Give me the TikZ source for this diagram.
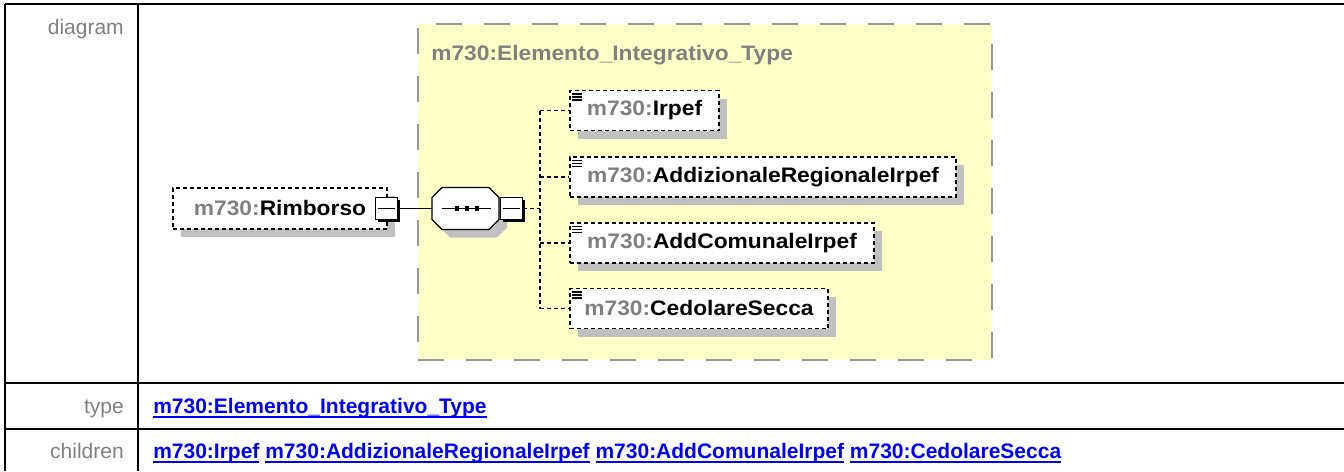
\documentclass[tikz,border=0pt]{standalone}
\usepackage{fontspec}
\setmainfont{Liberation Sans}
\newfontfamily\dfont[FakeStretch=1.085]{Liberation Sans}
\usetikzlibrary{shadows}
\definecolor{ygfill}{HTML}{FFFFC8}
\definecolor{ygborder}{HTML}{999999}
\definecolor{lblgray}{HTML}{808080}
\definecolor{shgray}{HTML}{C0C0C0}
\definecolor{linkblue}{HTML}{0000FF}
\newcommand{\dsize}{\fontsize{15.75}{18}\selectfont}
\newcommand{\pfx}[1]{\textcolor{lblgray}{#1}}
\newcommand{\lk}[1]{\setbox0\hbox{#1}\rlap{\rule[-3.8pt]{\wd0}{1.5pt}}\box0\relax}
\newcommand{\docicon}[1]{%
  \fill[white] ([xshift=1.5pt,yshift=-1.5pt]#1.north west) rectangle ([xshift=10.5pt,yshift=-8.5pt]#1.north west);
  \foreach \k in {0,1,2}{\draw[line width=1pt] ([xshift=2.25pt,yshift=-3pt-2.25pt*\k]#1.north west) -- ([xshift=9.75pt,yshift=-3pt-2.25pt*\k]#1.north west);}}
\tikzset{
  tline/.style={draw=black, line width=1.5pt},
  lbl/.style={inner sep=0pt, text=lblgray, font=\dsize},
  lnk/.style={inner sep=0pt, text=linkblue, font=\bfseries\dsize},
  typebox/.style={draw=ygborder, fill=ygfill, line width=1.5pt, dash pattern=on 19.5pt off 16.5pt, inner sep=0pt},
  elembox/.style={draw=black, line width=0.9pt, dash pattern=on 3pt off 2.25pt, fill=white,
    drop shadow={shadow xshift=6pt, shadow yshift=-6pt, fill=shgray, opacity=1},
    inner sep=0pt, font=\dfont\bfseries\dsize, text=black, minimum height=30pt},
  minusbox/.style={draw=black, line width=0.9pt, fill=white, minimum size=16.5pt, inner sep=0pt,
    drop shadow={shadow xshift=1.8pt, shadow yshift=-1.8pt, fill=black, opacity=1},
    path picture={\draw[line width=0.9pt] ([xshift=2pt]path picture bounding box.west) -- ([xshift=-2pt]path picture bounding box.east);}},
  seqframe/.style={inner sep=0pt, minimum width=50.25pt, minimum height=31.5pt},
  conn/.style={draw=black, line width=0.9pt},
  dconn/.style={draw=black, line width=0.9pt, dash pattern=on 3pt off 2.25pt},
}
\begin{document}
\begin{tikzpicture}[x=0.75pt, y=-0.75pt]
\useasboundingbox (0,0) rectangle (1344,471);
% table frame
\draw[tline] (5,3.5) -- (1344,3.5);
\draw[tline] (5,3.5) -- (5,471);
\draw[tline] (138,3.5) -- (138,471);
\draw[tline] (5,382.5) -- (1344,382.5);
\draw[tline] (5,428.5) -- (1344,428.5);
% row labels
\node[lbl, anchor=base east] (ldiag) at (124,34) {diagram};
\node[lbl, anchor=base east] (ltype) at (124,413) {type};
\node[lbl, anchor=base east] (lchild) at (124,458) {children};
\node[lnk, anchor=base west] (vtype) at (153,413) {\lk{m730:Elemento\_Integrativo\_Type}};
\node[lnk, anchor=base west] (vchild) at (153,458) {\lk{m730:Irpef} \lk{m730:AddizionaleRegionaleIrpef} \lk{m730:AddComunaleIrpef} \lk{m730:CedolareSecca}};
% complex type box
\node[typebox, minimum width=430.5pt, minimum height=252pt] (typebox) at (705,192) {};
\node[anchor=base west, inner sep=0pt, font=\dfont\bfseries\dsize, text=lblgray] (ttl) at (431,60) {m730:Elemento\_Integrativo\_Type};
% root element
\node[elembox, minimum width=160.5pt, minimum height=30.75pt] (rimb) at (280,208.5) {\pfx{m730:}Rimborso};
\node[minusbox] (minus1) at (386.5,208.5) {};
% sequence compositor
\fill[shgray] (440,205.5) -- (450,195.5) -- (497,195.5) -- (507,205.5) -- (507,227.5) -- (497,237.5) -- (450,237.5) -- (440,227.5) -- cycle;
\draw[fill=white, line width=0.9pt] (432,197.5) -- (442,187.5) -- (489,187.5) -- (499,197.5) -- (499,219.5) -- (489,229.5) -- (442,229.5) -- (432,219.5) -- cycle;
\node[seqframe] (seq) at (465.5,208.5) {};
\draw[line width=0.9pt] (442,208.5) -- (491,208.5);
\foreach \dx in {457,467,477} \fill (\dx-2.2,206.3) rectangle (\dx+2.2,210.7);
\node[minusbox] (minus2) at (511.5,208.5) {};
\coordinate (branch) at (540,208.5);
% children
\node[elembox, minimum width=111.75pt] (c1) at (644.5,110.5) {\pfx{m730:}Irpef};
\node[elembox, minimum width=289.5pt] (c2) at (763,177) {\pfx{m730:}AddizionaleRegionaleIrpef};
\node[elembox, minimum width=228pt] (c3) at (722,243) {\pfx{m730:}AddComunaleIrpef};
\node[elembox, minimum width=193.5pt] (c4) at (699,308.5) {\pfx{m730:}CedolareSecca};
\docicon{c1}
\docicon{c2}
\docicon{c3}
\docicon{c4}
% connectors
\draw[conn] (minus1.east) -- (seq.west);
\draw[dconn] (minus2.east) -- (branch);
\draw[dconn] (branch |- c1.west) -- (branch |- c4.west);
\foreach \c in {c1,c2,c3,c4} \draw[dconn] (branch |- \c.west) -- (\c.west);
\end{tikzpicture}
\end{document}
